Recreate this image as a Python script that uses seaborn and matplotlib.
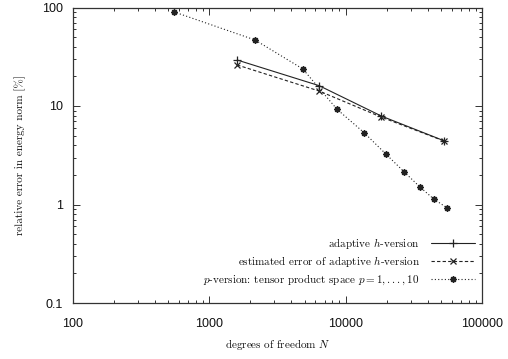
import matplotlib
matplotlib.use("Agg")
import matplotlib.pyplot as plt
import matplotlib.ticker as mticker
import seaborn as sns
import pandas as pd

# ---- data ----
h_dof = [1600, 6380, 18300, 53000]
h_err = [29.3, 16.1, 7.9, 4.42]

est_dof = [1600, 6380, 18300, 53000]
est_err = [26.1, 14.2, 7.7, 4.4]

p_dof = [546, 2164, 4844, 8650, 13650, 19780, 26800, 35150, 44500, 55200]
p_err = [90.6, 46.8, 23.8, 9.25, 5.36, 3.24, 2.15, 1.50, 1.13, 0.928]

labels = [
    r"adaptive $h$-version",
    r"estimated error of adaptive $h$-version",
    r"$p$-version: tensor product space $p=1,...,10$",
]
xticks = [100, 1000, 10000, 100000]
xticklabels = ["100", "1000", "10000", "100000"]
yticks = [0.1, 1, 10, 100]
yticklabels = ["0.1", "1", "10", "100"]

df = pd.concat([
    pd.DataFrame({"dof": h_dof, "err": h_err, "series": labels[0]}),
    pd.DataFrame({"dof": est_dof, "err": est_err, "series": labels[1]}),
    pd.DataFrame({"dof": p_dof, "err": p_err, "series": labels[2]}),
], ignore_index=True)

sns.set_theme(style="white")
plt.rcParams["mathtext.fontset"] = "cm"
plt.rcParams["font.family"] = ["DejaVu Sans"]

fig = plt.figure(figsize=(5.08, 3.59), dpi=100)
ax = fig.add_axes([73 / 508, 1 - 303 / 359, (482 - 73) / 508, (303 - 7.5) / 359])

col = "#222222"
sns.lineplot(data=df, x="dof", y="err", style="series", ax=ax, estimator=None,
             sort=False, color=col, linewidth=0.8,
             markers=["+", "x", (8, 2, 0)],
             dashes=["", (3, 2), (1, 2)], legend=False)

msizes = [6, 4.5, 4.5]
mews = [0.9, 0.9, 1.1]
lines = ax.lines[:3]
for ln, ms, mw in zip(lines, msizes, mews):
    ln.set_markersize(ms)
    ln.set_markeredgewidth(mw)
    ln.set_markeredgecolor(col)
    ln.set_markerfacecolor(col)

ax.set_xscale("log")
ax.set_yscale("log")
ax.set_xlim(100, 100000)
ax.set_ylim(0.1, 100)

ax.set_xticks(xticks)
ax.set_xticklabels(xticklabels)
ax.set_yticks(yticks)
ax.set_yticklabels(yticklabels)
ax.xaxis.set_minor_locator(mticker.LogLocator(base=10, subs=range(2, 10), numticks=20))
ax.yaxis.set_minor_locator(mticker.LogLocator(base=10, subs=range(2, 10), numticks=20))
ax.xaxis.set_minor_formatter(mticker.NullFormatter())
ax.yaxis.set_minor_formatter(mticker.NullFormatter())

ax.tick_params(which="both", direction="in", top=True, right=True, bottom=True,
               left=True, color="#333333", width=0.7)
ax.tick_params(which="major", length=5)
ax.tick_params(which="minor", length=2.5)
ax.tick_params(axis="x", which="major", pad=11, labelsize=9, labelcolor="#111111")
ax.tick_params(axis="y", which="major", pad=7, labelsize=9, labelcolor="#111111")
for lab in ax.get_xticklabels() + ax.get_yticklabels():
    lab.set_family("Liberation Sans")

for s in ax.spines.values():
    s.set_color("#333333")
    s.set_linewidth(0.9)
    s.set_visible(True)

ax.set_xlabel(r"degrees of freedom $N$", family="cmr10", fontsize=8, labelpad=5,
              color="#111111")
ax.set_ylabel(r"relative error in energy norm [%]", family="cmr10", fontsize=8,
              labelpad=12, color="#111111")

leg = ax.legend(lines, labels, loc="lower right", bbox_to_anchor=(1.008, 0.02),
                frameon=False, markerfirst=False, handlelength=4.0,
                handletextpad=1.0, labelspacing=0.32,
                prop={"family": "cmr10", "size": 8})
for t in leg.get_texts():
    t.set_color("#111111")

ax.grid(False)
fig.savefig("out.png", dpi=100)
